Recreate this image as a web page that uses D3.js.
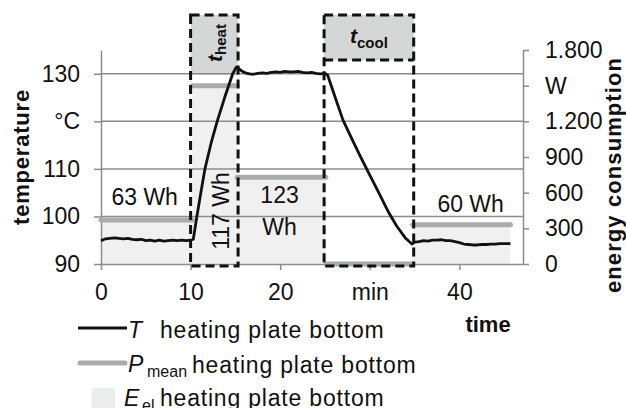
<!DOCTYPE html>
<html>
<head>
<meta charset="utf-8">
<script src="https://cdn.jsdelivr.net/npm/d3@7"></script>
<style>
body { margin: 0; background: #fff; }
text { font-family: "Liberation Sans", Arial, sans-serif; fill: #111; }
</style>
</head>
<body>
<svg id="chart" width="626" height="408"></svg>
<script>
// temperature of heating plate bottom (min, °C)
const tempTime = [0, 0.5, 1, 1.5, 2, 2.5, 3, 3.5, 4, 4.5, 5, 5.5, 6, 6.5, 7, 7.5, 8, 8.5, 9, 9.5, 10,
    10.3, 10.7, 11.1, 11.6, 12.3, 13.0, 13.8, 14.7, 15.1, 15.3, 15.7, 16.1, 16.6, 17, 17.5, 18, 18.5,
    19, 19.5, 20, 20.5, 21, 21.5, 22, 22.5, 23, 23.5, 24, 24.5, 25, 25.3, 26, 27, 28, 29, 30, 31, 32,
    33, 34, 34.7, 35, 35.5, 36, 36.5, 37, 37.5, 38, 38.5, 39, 39.5, 40, 40.5, 41, 41.5, 42, 42.5, 43,
    43.5, 44, 44.5, 45, 45.7];
const tempValue = [94.9, 95.3, 95.4, 95.5, 95.4, 95.3, 95.4, 95.2, 95.1, 95.2, 94.9, 95.0, 94.8, 95.0, 94.8, 94.9, 95.0, 94.9, 95.0, 94.9, 95.0,
    95.2, 100.0, 104.5, 110.0, 115.5, 120.2, 125.0, 130.0, 131.4, 131.2, 130.6, 130.2, 130.0, 129.9, 130.1, 130.2, 130.1,
    130.3, 130.4, 130.3, 130.5, 130.4, 130.4, 130.5, 130.3, 130.2, 130.3, 130.1, 130.0, 130.1, 129.7, 125.8, 120.3, 116.3, 112.4, 108.7, 105.0, 101.2,
    98.0, 95.4, 94.2, 94.6, 94.7, 94.9, 94.8, 95.0, 95.0, 95.1, 94.9, 94.9, 94.7, 94.5, 94.2, 94.1, 94.0, 94.0, 94.1, 94.1,
    94.2, 94.2, 94.3, 94.3, 94.3];

// mean electric power per phase (W) and energy per phase (Wh)
const phaseStart = [0, 10.2, 15.2, 25.1, 34.8];
const phaseEnd = [10.2, 15.2, 25.1, 34.8, 45.7];
const phasePower = [370, 1500, 730, 0, 330];
const phaseEnergy = [63, 117, 123, null, 60];

// marked phases
const boxNames = ["heat", "cool"];
const boxFrom = [10, 24.9];
const boxTo = [15.3, 34.9];

const timeTicks = [0, 10, 20, 30, 40];
const timeTickLabels = ["0", "10", "20", "min", "40"];
const tempTicks = [90, 100, 110, 120, 130];
const tempTickLabels = ["90", "100", "110", "°C", "130"];
const powerTicks = [0, 300, 600, 900, 1200, 1500, 1800];
const powerTickLabels = ["0", "300", "600", "900", "1.200", "W", "1.800"];

const svg = d3.select("#chart");
const gridColor = "#8c8c8c";
const meanColor = "#a8acab";
const fillColor = "#f0f0f0";

let x = d3.scaleLinear([0, 47.1], [101, 523]);
let yT = d3.scaleLinear([90, 135], [264, 50]);
let yP = d3.scaleLinear([0, 1800], [264, 50]);

// energy areas under mean power
svg.append("g")
    .selectAll("rect")
    .data(phasePower.map((p, i) => ({p, s: phaseStart[i], e: phaseEnd[i]})).filter(d => d.p > 0))
    .join("rect")
    .attr("x", d => x(d.s))
    .attr("width", d => x(d.e) - x(d.s))
    .attr("y", d => yP(d.p))
    .attr("height", d => yP(0) - yP(d.p))
    .attr("fill", fillColor);

// header boxes
const boxTop = 15;
const boxHeadBottom = [yT(130) + 1, 60];
svg.append("g")
    .selectAll("rect")
    .data(boxNames)
    .join("rect")
    .attr("x", (d, i) => x(boxFrom[i]))
    .attr("width", (d, i) => x(boxTo[i]) - x(boxFrom[i]))
    .attr("y", boxTop)
    .attr("height", (d, i) => boxHeadBottom[i] - boxTop)
    .attr("fill", "#d5d7d7");

// gridlines
svg.append("g")
    .selectAll("line")
    .data(tempTicks.slice(1))
    .join("line")
    .attr("x1", x(0))
    .attr("x2", x(47.1))
    .attr("y1", d => yT(d))
    .attr("y2", d => yT(d))
    .attr("stroke", gridColor)
    .attr("stroke-width", 1.5);

function styleAxis(g) {
    g.select(".domain").attr("stroke", gridColor).attr("stroke-width", 1.5);
    g.selectAll(".tick line").attr("stroke", gridColor).attr("stroke-width", 1.5);
    g.selectAll(".tick text").attr("font-size", 23).attr("font-family", null).attr("fill", "#111");
}

svg.append("g")
    .attr("transform", `translate(${x(0)},0)`)
    .call(d3.axisLeft(yT).tickValues(tempTicks).tickFormat((d, i) => tempTickLabels[i])
        .tickSize(7).tickSizeOuter(0).tickPadding(14))
    .call(styleAxis);

svg.append("g")
    .attr("transform", `translate(${x(47.1)},0)`)
    .call(d3.axisRight(yP).tickValues(powerTicks).tickFormat((d, i) => powerTickLabels[i])
        .tickSize(6).tickSizeOuter(0).tickPadding(16))
    .call(styleAxis);

svg.append("g")
    .attr("transform", `translate(0,${yT(90)})`)
    .call(d3.axisBottom(x).tickValues(timeTicks).tickFormat((d, i) => timeTickLabels[i])
        .tickSize(6).tickSizeOuter(0).tickPadding(14))
    .call(styleAxis);

// mean power lines
svg.append("g")
    .selectAll("line")
    .data(phasePower)
    .join("line")
    .attr("x1", (d, i) => x(phaseStart[i]))
    .attr("x2", (d, i) => x(phaseEnd[i]))
    .attr("y1", d => yP(d))
    .attr("y2", d => yP(d))
    .attr("stroke", meanColor)
    .attr("stroke-width", 5)
    .attr("stroke-linecap", "round");

// temperature
svg.append("path")
    .datum(tempTime.map((t, i) => [t, tempValue[i]]))
    .attr("fill", "none")
    .attr("stroke", "#111")
    .attr("stroke-width", 2.8)
    .attr("stroke-linejoin", "round")
    .attr("d", d3.line().x(d => x(d[0])).y(d => yT(d[1])));

// dashed boxes
const dash = "9 5";
svg.append("g")
    .selectAll("rect")
    .data(boxNames)
    .join("rect")
    .attr("x", (d, i) => x(boxFrom[i]))
    .attr("width", (d, i) => x(boxTo[i]) - x(boxFrom[i]))
    .attr("y", boxTop)
    .attr("height", yT(90) + 2 - boxTop)
    .attr("fill", "none")
    .attr("stroke", "#111")
    .attr("stroke-width", 3)
    .attr("stroke-dasharray", dash);
svg.append("line")
    .attr("x1", x(boxFrom[1])).attr("x2", x(boxTo[1]))
    .attr("y1", boxHeadBottom[1]).attr("y2", boxHeadBottom[1])
    .attr("stroke", "#111").attr("stroke-width", 3).attr("stroke-dasharray", dash);

// box titles
const heatT = svg.append("text")
    .attr("transform", `translate(${x(boxFrom[0]) + 31},43) rotate(-90)`)
    .attr("text-anchor", "middle");
heatT.append("tspan").attr("font-size", 21).attr("font-style", "italic").attr("font-weight", "bold").text("t");
heatT.append("tspan").attr("font-size", 15).attr("font-weight", "bold").attr("dy", 4).text(boxNames[0]);

const coolT = svg.append("text")
    .attr("transform", `translate(${(x(boxFrom[1]) + x(boxTo[1])) / 2},43)`)
    .attr("text-anchor", "middle");
coolT.append("tspan").attr("font-size", 21).attr("font-style", "italic").attr("font-weight", "bold").text("t");
coolT.append("tspan").attr("font-size", 15).attr("font-weight", "bold").attr("dy", 5).text(boxNames[1]);

// energy labels
const mid = i => x((phaseStart[i] + phaseEnd[i]) / 2);
svg.append("text").attr("x", mid(0) - 2).attr("y", 205).attr("font-size", 23)
    .attr("text-anchor", "middle").text(phaseEnergy[0] + " Wh");
svg.append("text").attr("transform", `translate(229,211) rotate(-90)`).attr("font-size", 23)
    .attr("text-anchor", "middle").text(phaseEnergy[1] + " Wh");
svg.append("text").attr("x", mid(2) - 2).attr("y", 203).attr("font-size", 23)
    .attr("text-anchor", "middle").text(phaseEnergy[2]);
svg.append("text").attr("x", mid(2) - 2).attr("y", 235).attr("font-size", 23)
    .attr("text-anchor", "middle").text("Wh");
svg.append("text").attr("x", mid(4) + 9).attr("y", 212).attr("font-size", 23)
    .attr("text-anchor", "middle").text(phaseEnergy[4] + " Wh");

// axis titles
svg.append("text").attr("transform", "translate(29,157) rotate(-90)")
    .attr("text-anchor", "middle").attr("font-size", 22).attr("font-weight", "bold")
    .attr("letter-spacing", 0.8).text("temperature");
svg.append("text").attr("transform", "translate(621,175) rotate(-90)")
    .attr("text-anchor", "middle").attr("font-size", 22).attr("font-weight", "bold")
    .attr("letter-spacing", 1.1).text("energy consumption");
svg.append("text").attr("x", 488).attr("y", 332)
    .attr("text-anchor", "middle").attr("font-size", 22).attr("font-weight", "bold").text("time");

// legend
const lg = svg.append("g");
lg.append("line").attr("x1", 78).attr("x2", 127).attr("y1", 328).attr("y2", 328)
    .attr("stroke", "#111").attr("stroke-width", 3);
lg.append("text").attr("x", 128).attr("y", 338).attr("font-size", 23).attr("font-style", "italic").text("T");
lg.append("text").attr("x", 160).attr("y", 338).attr("font-size", 23).attr("letter-spacing", 0.8).text("heating plate bottom");

lg.append("line").attr("x1", 80).attr("x2", 125).attr("y1", 363).attr("y2", 363)
    .attr("stroke", meanColor).attr("stroke-width", 5).attr("stroke-linecap", "round");
lg.append("text").attr("x", 128).attr("y", 372).attr("font-size", 23).attr("font-style", "italic").text("P");
lg.append("text").attr("x", 147).attr("y", 377).attr("font-size", 16).text("mean");
lg.append("text").attr("x", 192).attr("y", 373).attr("font-size", 23).attr("letter-spacing", 0.8).text("heating plate bottom");

lg.append("rect").attr("x", 92).attr("y", 388).attr("width", 23).attr("height", 23).attr("fill", "#eceeed");
lg.append("text").attr("x", 124).attr("y", 406).attr("font-size", 23).attr("font-style", "italic").text("E");
lg.append("text").attr("x", 142).attr("y", 411).attr("font-size", 16).text("el");
lg.append("text").attr("x", 160).attr("y", 406).attr("font-size", 23).attr("letter-spacing", 0.8).text("heating plate bottom");
</script>
</body>
</html>
